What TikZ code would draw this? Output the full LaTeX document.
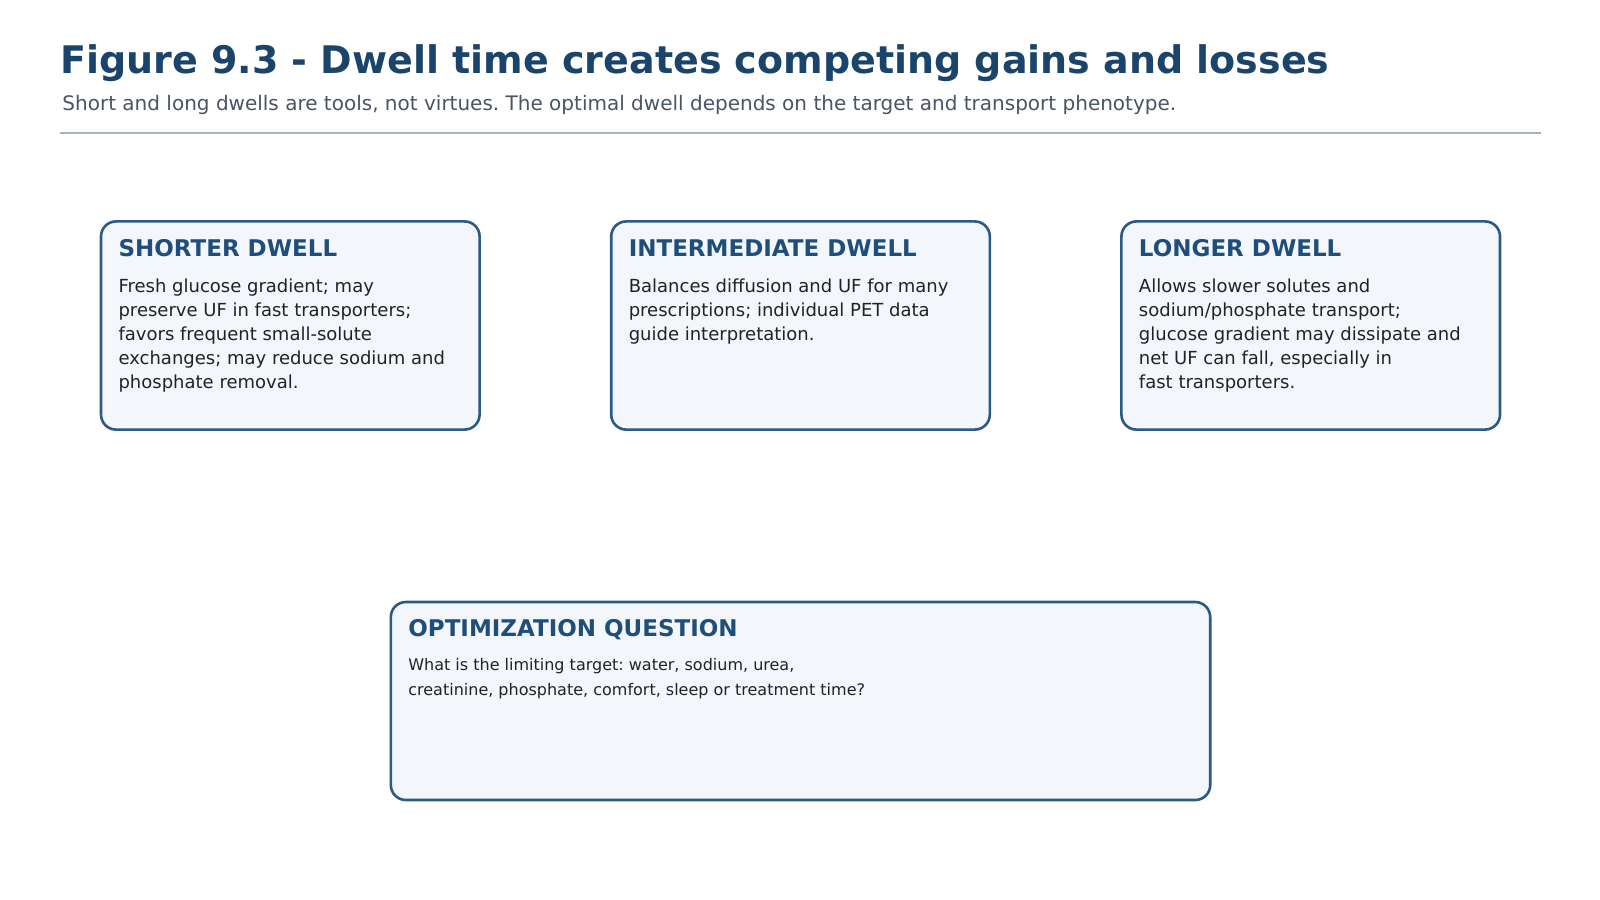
\documentclass[tikz,border=0pt]{standalone}
\usepackage{fontspec}
\setmainfont{DejaVu Sans}
\frenchspacing
\definecolor{titleblue}{HTML}{1B446B}
\definecolor{headblue}{HTML}{1F4E7A}
\definecolor{boxborder}{HTML}{2A5A85}
\definecolor{boxfill}{HTML}{F3F7FB}
\definecolor{subgray}{HTML}{4A5563}
\definecolor{rulegray}{HTML}{9FB3C8}
\definecolor{bodytext}{HTML}{222222}
\tikzset{
  card/.style={draw=boxborder, fill=boxfill, line width=2.6pt, rounded corners=15pt},
  cardhead/.style={anchor=base west, inner sep=0pt, text=headblue, font=\fontsize{23}{27}\selectfont\bfseries},
  cardbody/.style={anchor=north west, inner sep=0pt, text=bodytext, align=left, font=\fontsize{18}{24}\selectfont},
  cardbodysmall/.style={anchor=north west, inner sep=0pt, text=bodytext, align=left, font=\fontsize{16}{24.8}\selectfont},
}
\begin{document}
\begin{tikzpicture}[x=1.0204pt,y=-1.0204pt]
\useasboundingbox[fill=white] (0,0) rectangle (1568,882);
% title
\node[anchor=base west, inner sep=0pt, text=titleblue, font=\fontsize{38}{44}\selectfont\bfseries] (title) at (59,72) {Figure 9.3 - Dwell time creates competing gains and losses};
\node[anchor=base west, inner sep=0pt, text=subgray, font=\fontsize{20}{24}\selectfont] (subtitle) at (61,108) {Short and long dwells are tools, not virtues. The optimal dwell depends on the target and transport phenotype.};
\coordinate (ruleL) at (59,130);
\coordinate (ruleR) at (1510,130);
\draw[rulegray, line width=1.8pt] (ruleL) -- (ruleR);
% cards
\draw[card] (99,217) rectangle (470,421);
\node[cardhead] (h1) at (116,251) {SHORTER DWELL};
\node[cardbody] (b1) at (116,273) {Fresh glucose gradient; may\\preserve UF in fast transporters;\\favors frequent small-solute\\exchanges; may reduce sodium and\\phosphate removal.};

\draw[card] (599,217) rectangle (970,421);
\node[cardhead] (h2) at (616,251) {INTERMEDIATE DWELL};
\node[cardbody] (b2) at (616,273) {Balances diffusion and UF for many\\prescriptions; individual PET data\\guide interpretation.};

\draw[card] (1099,217) rectangle (1470,421);
\node[cardhead] (h3) at (1116,251) {LONGER DWELL};
\node[cardbody] (b3) at (1116,273) {Allows slower solutes and\\sodium/phosphate transport;\\glucose gradient may dissipate and\\net UF can fall, especially in\\fast transporters.};

\draw[card] (383,590) rectangle (1186,784);
\node[cardhead] (h4) at (400,624) {OPTIMIZATION QUESTION};
\node[cardbodysmall] (b4) at (400,645) {What is the limiting target: water, sodium, urea,\\creatinine, phosphate, comfort, sleep or treatment time?};
\end{tikzpicture}
\end{document}
